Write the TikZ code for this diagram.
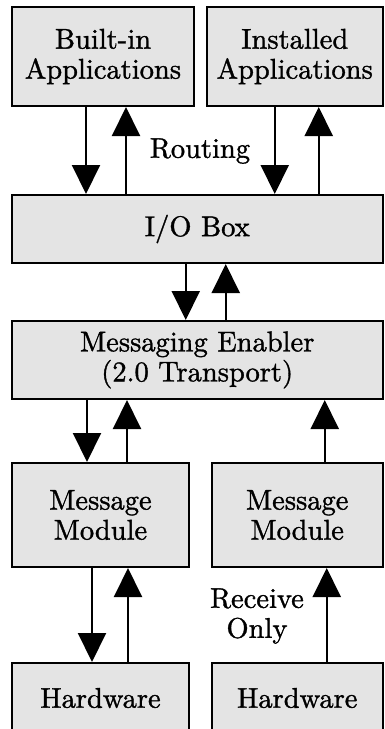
\documentclass[tikz,border=0pt]{standalone}
\usepackage{fontspec}
\setmainfont{lmroman10-regular.otf}[FakeBold=1.2]
\usepackage{tikz}
\usetikzlibrary{arrows.meta}
\definecolor{boxgray}{RGB}{228, 228, 228}

\begin{document}
\begin{tikzpicture}[x=1pt,y=-1pt,
    box/.style={draw,rectangle,fill=boxgray,line width=2pt,align=center,
      inner sep=0pt,font=\fontsize{28.5}{30}\selectfont},
    flow/.style={line width=2pt,-{Triangle[width=28pt,length=29pt]}},
    lbl/.style={align=center,font=\fontsize{28.5}{30}\selectfont}]
            \useasboundingbox (0,0) rectangle (384,729);
            \clip (0,0) rectangle (384,729);
            \node[box,minimum width=182pt,minimum height=99pt] (builtin) at (103,56.5) {Built-in\\Applications};
            \node[box,minimum width=175.5pt,minimum height=99pt] (installed) at (294.75,56.5) {Installed\\Applications};
            \node[box,minimum width=370.5pt,minimum height=68pt] (iobox) at (197.25,229) {I/O Box};
            \node[box,minimum width=370.5pt,minimum height=78pt] (enabler) at (197.25,360) {Messaging Enabler\\(2.0 Transport)};
            \node[box,minimum width=177pt,minimum height=104pt] (modleft) at (100.5,515) {Message\\Module};
            \node[box,minimum width=170.5pt,minimum height=104pt] (modright) at (297.25,515) {Message\\Module};
            \node[box,minimum width=177pt,minimum height=70pt] (hwleft) at (100.5,698) {Hardware};
            \node[box,minimum width=170.5pt,minimum height=70pt] (hwright) at (297.25,698) {Hardware};
            \node[lbl] (routing) at (200,151) {Routing};
            \node[lbl] (recvonly) at (257,616) {Receive\\Only};
            
            \draw[flow] ([xshift=-17pt]builtin.south) -- ([xshift=-17pt]builtin.south |- iobox.north);
            \draw[flow] ([xshift=23pt]builtin.south |- iobox.north) -- ([xshift=23pt]builtin.south);
            \draw[flow] ([xshift=-20pt]installed.south) -- ([xshift=-20pt]installed.south |- iobox.north);
            \draw[flow] ([xshift=24pt]installed.south |- iobox.north) -- ([xshift=24pt]installed.south);
            \draw[flow] ([xshift=-11.5pt]iobox.south) -- ([xshift=-11.5pt]iobox.south |- enabler.north);
            \draw[flow] ([xshift=28.5pt]iobox.south |- enabler.north) -- ([xshift=28.5pt]iobox.south);
            \draw[flow] ([xshift=-13.5pt]modleft.north |- enabler.south) -- ([xshift=-13.5pt]modleft.north);
            \draw[flow] ([xshift=26.5pt]modleft.north) -- ([xshift=26.5pt]modleft.north |- enabler.south);
            \draw[flow] ([xshift=27.5pt]modright.north) -- ([xshift=27.5pt]modright.north |- enabler.south);
            \draw[flow] ([xshift=-8.5pt]modleft.south) -- ([xshift=-8.5pt]hwleft.north);
            \draw[flow] ([xshift=27.5pt]hwleft.north) -- ([xshift=27.5pt]modleft.south);
            \draw[flow] ([xshift=29.5pt]hwright.north) -- ([xshift=29.5pt]modright.south);
        \end{tikzpicture}
\end{document}
